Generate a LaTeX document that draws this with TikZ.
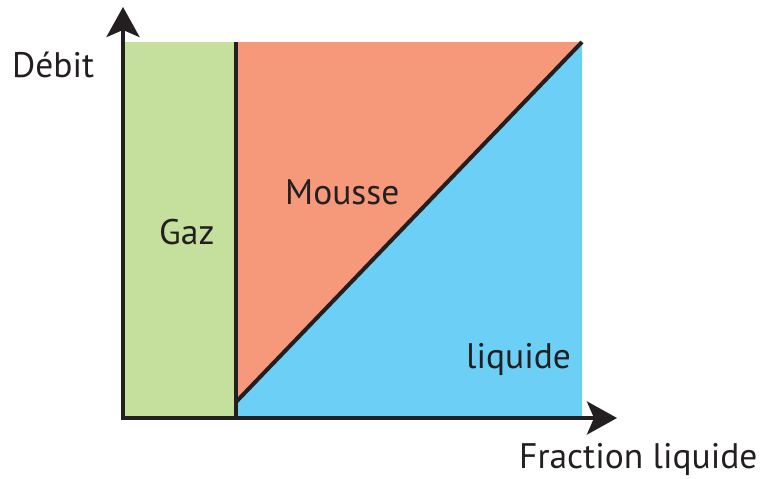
\documentclass[tikz,border=0pt]{standalone}
\usepackage{fontspec}
\setmainfont{PT Sans}
\usetikzlibrary{arrows.meta}
\definecolor{phgreen}{RGB}{197, 223, 156}
\definecolor{phsalmon}{RGB}{246, 153, 123}
\definecolor{phblue}{RGB}{107, 207, 246}
\definecolor{phblack}{RGB}{35, 31, 32}

\begin{document}
\begin{tikzpicture}[x=1pt, y=-1pt, >={Stealth[length=30pt, width=33pt, inset=7pt]},
    axe/.style={line width=4pt, phblack},
    frontiere/.style={line width=4pt, phblack},
    etiquette/.style={anchor=base west, inner sep=0pt, text=phblack, font=\fontsize{35.5}{40}\selectfont}]
\useasboundingbox (0,0) rectangle (769,479);

% === Coins du diagramme ===
\coordinate (O) at (123,418);
\coordinate (haut) at (123,42);
\coordinate (sep bas) at (236,418);
\coordinate (sep haut) at (236,42);
\coordinate (diag bas) at (236,402);
\coordinate (coin haut) at (582,42);
\coordinate (coin bas) at (582,418);
\coordinate (y fin) at (123,7);
\coordinate (x fin) at (617,418);

% === Régions ===
\fill[phgreen] (O) rectangle (sep haut);
\fill[phsalmon] (sep haut) rectangle (coin bas);
\fill[phblue] (diag bas) -- (coin haut) -- (coin bas) -- (sep bas) -- cycle;

% Frontières
\draw[frontiere] (sep bas) -- (sep haut);
\draw[frontiere] (diag bas) -- (coin haut);

% === Axes ===
\draw[axe, ->] ([yshift=2pt]O) -- (y fin);
\draw[axe, ->] ([xshift=-2pt]O) -- (x fin);

% === Étiquettes ===
\node[etiquette] (debit) at (12,77) {Débit};
\node[etiquette] (fraction) at (519,468) {Fraction liquide};
\node[etiquette] (gaz) at (159,244) {Gaz};
\node[etiquette] (mousse) at (285,204) {Mousse};
\node[etiquette] (liquide) at (466,368) {liquide};

\end{tikzpicture}
\end{document}
